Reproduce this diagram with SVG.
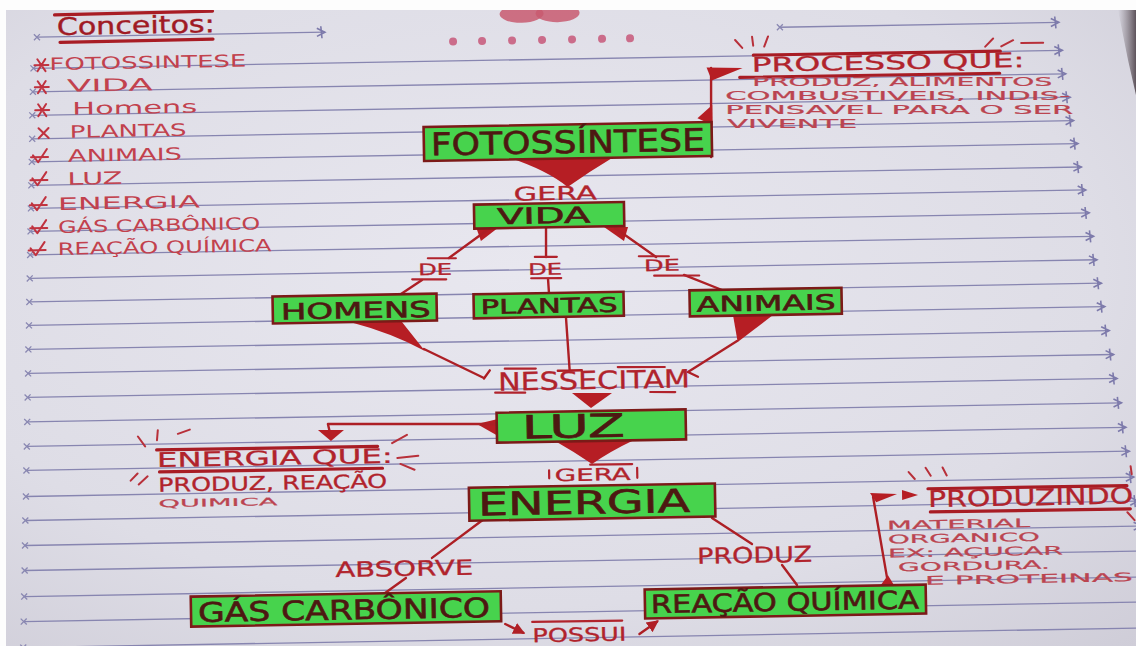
<svg xmlns="http://www.w3.org/2000/svg" width="1136" height="646" viewBox="0 0 1136 646">
<defs>
  <radialGradient id="paperGlow" cx="0.45" cy="0.42" r="0.8">
    <stop offset="0" stop-color="#e8e7ef"/>
    <stop offset="0.65" stop-color="#dedde6"/>
    <stop offset="1" stop-color="#cfcdd8"/>
  </radialGradient>
  <linearGradient id="edgeShade" x1="0" y1="0" x2="1" y2="0">
    <stop offset="0" stop-color="#7a7078" stop-opacity="0"/>
    <stop offset="1" stop-color="#574c54" stop-opacity="0.95"/>
  </linearGradient>
  <marker id="ruleEnd" markerUnits="userSpaceOnUse" markerWidth="16" markerHeight="14" refX="11" refY="7" orient="auto">
    <path d="M3,3 L11,7 L3,11 M7,1 L8,13" fill="none" stroke="#7d7aab" stroke-width="1.6"/>
  </marker>
  <marker id="ruleStart" markerUnits="userSpaceOnUse" markerWidth="10" markerHeight="10" refX="4" refY="5" orient="auto">
    <path d="M1,2 L7,8 M7,2 L1,8" fill="none" stroke="#8a88b2" stroke-width="1.3"/>
  </marker>
  <marker id="inkArrow" markerUnits="userSpaceOnUse" markerWidth="14" markerHeight="14" refX="10" refY="7" orient="auto">
    <path d="M0,1 L12,7 L0,13 Z" fill="#b01f26"/>
  </marker>
  <g id="mk-star"><path d="M-7,0H7M-4,-6L4,6M4,-6L-4,6" fill="none" stroke="#c0323f" stroke-width="2" stroke-linecap="round"/></g>
  <g id="mk-x"><path d="M-5,-5L5,5M5,-5L-5,5" fill="none" stroke="#c0323f" stroke-width="2" stroke-linecap="round"/></g>
  <g id="mk-tick"><path d="M-8,-2L-3,5L6,-8M-10,0H7" fill="none" stroke="#c0323f" stroke-width="2" stroke-linecap="round" stroke-linejoin="round"/></g>
</defs>
<style>
  .rule{stroke:#8785b0;stroke-width:1.3;fill:none;marker-start:url(#ruleStart);marker-end:url(#ruleEnd)}
  .box{fill:#47d34d;stroke:#7c1a18;stroke-width:2.6}
  .ntxt{font-family:"DejaVu Sans",sans-serif;fill:#4d1812;stroke:#4d1812;stroke-width:0.6}
  .lbl{font-family:"DejaVu Sans",sans-serif;fill:#b1232c;stroke:#b1232c;stroke-width:0.3}
  .note{font-family:"DejaVu Sans",sans-serif;fill:#bb4450;stroke:#bb4450;stroke-width:0.2}
  .list{font-family:"DejaVu Sans",sans-serif;fill:#c2414d;font-size:17px}
  .ink{stroke:#ad1f25;stroke-width:2.4;fill:none;stroke-linecap:round;stroke-linejoin:round}
  .bar{stroke:#b1232c;stroke-width:2.2;fill:none;stroke-linecap:round}
  .rule-red{stroke:#a81c24;stroke-width:3.2;fill:none;stroke-linecap:round}
  .wedge{fill:#b61e24}
  .spark{stroke:#b8303a;stroke-width:2;fill:none;stroke-linecap:round}
</style>

<!-- paper -->
<rect x="0" y="0" width="1136" height="646" fill="url(#paperGlow)"/>

<g transform="rotate(-1 568 323)">
  <!-- ruled lines of the notebook page -->
  <g id="ruled-lines">
    <line class="rule" x1="42" y1="28" x2="330" y2="28"/>
    <line class="rule" x1="785" y1="31" x2="1064" y2="31"/>
    <line class="rule" x1="38" y1="59" x2="1067" y2="59"/>
    <line class="rule" x1="37" y1="82.5" x2="1070" y2="82.5"/>
    <line class="rule" x1="36" y1="106" x2="1074" y2="106"/>
    <line class="rule" x1="35.5" y1="129.5" x2="1077" y2="129.5"/>
    <line class="rule" x1="34.7" y1="152.5" x2="1081" y2="152.5"/>
    <line class="rule" x1="33.8" y1="176" x2="1084" y2="176"/>
    <line class="rule" x1="33" y1="199" x2="1088" y2="199"/>
    <line class="rule" x1="32.2" y1="222" x2="1091" y2="222"/>
    <line class="rule" x1="31.4" y1="245.5" x2="1095" y2="245.5"/>
    <line class="rule" x1="30.6" y1="269" x2="1098" y2="269"/>
    <line class="rule" x1="29.8" y1="292.5" x2="1102" y2="292.5"/>
    <line class="rule" x1="29" y1="316" x2="1105" y2="316"/>
    <line class="rule" x1="28" y1="340" x2="1109" y2="340"/>
    <line class="rule" x1="27.3" y1="364" x2="1113" y2="364"/>
    <line class="rule" x1="26.4" y1="388" x2="1116" y2="388"/>
    <line class="rule" x1="25.6" y1="412.5" x2="1120" y2="412.5"/>
    <line class="rule" x1="24.7" y1="437" x2="1124" y2="437"/>
    <line class="rule" x1="23.9" y1="461" x2="1127" y2="461"/>
    <line class="rule" x1="23" y1="487" x2="1131" y2="487"/>
    <line class="rule" x1="22" y1="511" x2="1135" y2="511"/>
    <line class="rule" x1="21.2" y1="536" x2="1138" y2="536"/>
    <line class="rule" x1="20.4" y1="561" x2="1142" y2="561"/>
    <line class="rule" x1="19.5" y1="587" x2="1146" y2="587"/>
    <line class="rule" x1="18.6" y1="612" x2="1150" y2="612"/>
    <line class="rule" x1="17.7" y1="638" x2="1154" y2="638"/>
  </g>

  <!-- page header -->
  <g id="header">
    <path class="rule-red" d="M60 6 L218 5"/>
    <text x="62" y="26" font-family="DejaVu Sans, sans-serif" font-size="24" fill="#a01a24" stroke="#a01a24" stroke-width="0.4" textLength="158" lengthAdjust="spacingAndGlyphs">Conceitos:</text>
    <path class="rule-red" d="M65 33.5 L218 33"/>
    <ellipse cx="527" cy="13" rx="22" ry="9" fill="#c85a70" opacity="0.85"/>
    <ellipse cx="563" cy="13" rx="22" ry="9" fill="#c85a70" opacity="0.85"/>
    <g fill="#c8587a" opacity="0.85">
      <circle cx="458" cy="39.5" r="4"/>
      <circle cx="487" cy="39.5" r="4"/>
      <circle cx="517" cy="39.5" r="4"/>
      <circle cx="547" cy="39.5" r="4"/>
      <circle cx="577" cy="39.5" r="4"/>
      <circle cx="607" cy="39.5" r="4"/>
      <circle cx="635" cy="39.5" r="4"/>
    </g>
  </g>

  <!-- list of concepts -->
  <g id="concepts-list">
    <use href="#mk-star" x="46" y="56"/>
    <use href="#mk-star" x="46" y="78"/>
    <use href="#mk-star" x="46" y="101"/>
    <use href="#mk-x" x="47" y="124"/>
    <use href="#mk-tick" x="44" y="148"/>
    <use href="#mk-tick" x="43" y="171"/>
    <use href="#mk-tick" x="42" y="196"/>
    <use href="#mk-tick" x="42" y="219"/>
    <use href="#mk-tick" x="40" y="241"/>
    <text class="list" x="54" y="61" textLength="197" lengthAdjust="spacingAndGlyphs">FOTOSSINTESE</text>
    <text class="list" x="71" y="83" textLength="86" lengthAdjust="spacingAndGlyphs">VIDA</text>
    <text class="list" x="76" y="106" textLength="125" lengthAdjust="spacingAndGlyphs">Homens</text>
    <text class="list" x="73" y="129" textLength="117" lengthAdjust="spacingAndGlyphs">PLANTAS</text>
    <text class="list" x="71" y="153" textLength="114" lengthAdjust="spacingAndGlyphs">ANIMAIS</text>
    <text class="list" x="70" y="176" textLength="55" lengthAdjust="spacingAndGlyphs">LUZ</text>
    <text class="list" x="60" y="201" textLength="142" lengthAdjust="spacingAndGlyphs">ENERGIA</text>
    <text class="list" x="60" y="224" textLength="202" lengthAdjust="spacingAndGlyphs">GÁS CARBÔNICO</text>
    <text class="list" x="59" y="246" textLength="214" lengthAdjust="spacingAndGlyphs">REAÇÃO QUÍMICA</text>
  </g>

  <!-- connectors -->
  <g id="connectors">
    <!-- fotossintese to vida -->
    <path class="wedge" d="M513 157 L615 158.8 Q592 172 570 187 Q550 170 513 157 Z"/>
    <!-- vida to the three "de" -->
    <path class="wedge" d="M477.7 225.4 L500.7 225.8 L482.4 239.5 Z"/>
    <path class="ink" d="M491.7 226.6 L450.1 255.9"/>
    <path class="ink" d="M422.8 277.4 L398.5 293"/>
    <path class="ink" d="M547.7 226.6 L547.2 256.6"/>
    <path class="ink" d="M548.8 278.6 L549.5 292.7"/>
    <path class="wedge" d="M605.7 227.6 L629.7 228 L625.4 242 Z"/>
    <path class="ink" d="M616.7 228.8 L657.2 258.5"/>
    <path class="ink" d="M684.8 277 L722.6 292.7"/>
    <!-- homens, plantas, animais to "nessecitam" -->
    <path class="wedge" d="M350 318.2 L402 319.1 L424.5 348.5 Q392 330 350 318.2 Z"/>
    <path class="ink" d="M423.5 346.5 L483 376.5 M489 369 L483 377"/>
    <path class="ink" d="M566.1 318 L568.8 370 M557 370.5 L581 370.5"/>
    <path class="wedge" d="M733.1 317.9 L773.1 318.6 L737.3 345 Z"/>
    <path class="ink" d="M736.7 344 L687.1 374.1 L697 379"/>
    <!-- nessecitam to luz -->
    <path class="wedge" d="M570.8 393.1 L610.8 393.8 L589.5 408.4 Z"/>
    <!-- luz to energia -->
    <path class="wedge" d="M553 440.8 L630 442.1 Q608 452 589.6 464.4 Q572 452 553 440.8 Z"/>
    <!-- luz to the note about energy -->
    <path class="wedge" d="M475.2 422.4 L496.2 417.8 L496.1 434.8 Z"/>
    <path class="ink" d="M495.2 422.8 L326.2 419.8 L328.1 428.8"/>
    <path class="wedge" d="M316.1 425.6 L342.1 426.1 L328.9 436.8 Z"/>
    <!-- energia to gas carbonico and reacao quimica -->
    <path class="ink" d="M480.6 517.5 L427.9 555.5"/>
    <path class="ink" d="M401.5 575.2 L376.2 592.7"/>
    <path class="ink" d="M708.6 520.5 L748.1 547.2"/>
    <path class="ink" d="M777.8 568.7 L792.4 589"/>
    <!-- possui arrows -->
    <path class="ink" d="M500 622.9 L518 632" marker-end="url(#inkArrow)"/>
    <path class="ink" d="M634 635.3 L652 623" marker-end="url(#inkArrow)"/>
    <!-- bracket from fotossintese to its note -->
    <path class="ink" d="M715.5 70.5 L714 159.5"/>
    <path class="wedge" d="M711 70 L747 71 L716 83 Z"/>
    <path class="wedge" d="M701 120.5 L716 107.5 L716 127.5 Z"/>
    <!-- bracket from reacao quimica to its note -->
    <path class="ink" d="M883.4 588.7 L870 502.3"/>
    <path class="wedge" d="M867 498.3 L894 499.8 L873 507.5 Z"/>
    <path class="wedge" d="M899 495.8 L915 501 L899 505.9 Z"/>
    <path class="wedge" d="M872.3 595.5 L892.3 595.8 L883.5 580.7 Z"/>
  </g>

  <!-- link labels -->
  <g id="link-labels">
    <text class="lbl" x="516" y="199.8" font-size="19" textLength="83" lengthAdjust="spacingAndGlyphs">GERA</text>
    <path class="bar" d="M429 255.8 L457 256.3 M413 276.6 L447 277.2"/>
    <text class="lbl" x="419" y="272.6" font-size="16" textLength="34" lengthAdjust="spacingAndGlyphs">DE</text>
    <path class="bar" d="M536 256.4 L558 256.6 M532 277.6 L562 278"/>
    <text class="lbl" x="529" y="274.3" font-size="16" textLength="34" lengthAdjust="spacingAndGlyphs">DE</text>
    <path class="bar" d="M640 257.5 L670 258 M655 277.2 L700 277.8"/>
    <text class="lbl" x="645" y="272.5" font-size="16" textLength="36" lengthAdjust="spacingAndGlyphs">DE</text>
    <path class="bar" d="M504 367.6 L535 368 M617 367.9 L664 368.7 M494 391.4 L524 391.9 M649 393.4 L674 393.9"/>
    <text class="lbl" x="497" y="389.5" font-size="25" textLength="192" lengthAdjust="spacingAndGlyphs">NESSECITAM</text>
    <path class="bar" d="M546.5 470 L546.5 478 M634.6 469 L634.6 479 M587.7 465 L629.7 465.2"/>
    <text class="lbl" x="552" y="481" font-size="17" textLength="76" lengthAdjust="spacingAndGlyphs">GERA</text>
    <text class="lbl" x="331" y="573" font-size="21" textLength="138" lengthAdjust="spacingAndGlyphs">ABSORVE</text>
    <text class="lbl" x="693" y="566" font-size="22" textLength="115" lengthAdjust="spacingAndGlyphs">PRODUZ</text>
    <path class="bar" d="M527 621.2 L617 621.5"/>
    <text class="lbl" x="527" y="641.5" font-size="19" textLength="94" lengthAdjust="spacingAndGlyphs">POSSUI</text>
  </g>

  <!-- concept nodes -->
  <g id="node-fotossintese">
    <rect class="box" x="427" y="124.5" width="288" height="34"/>
    <text class="ntxt" x="434" y="153" font-size="31" textLength="274" lengthAdjust="spacingAndGlyphs">FOTOSSÍNTESE</text>
  </g>
  <g id="node-vida">
    <rect class="box" x="476" y="203" width="150" height="24"/>
    <text class="ntxt" x="499" y="223" font-size="22" textLength="93" lengthAdjust="spacingAndGlyphs">VIDA</text>
  </g>
  <g id="node-homens">
    <rect class="box" x="273" y="291.3" width="164" height="27"/>
    <text class="ntxt" x="281" y="314.5" font-size="22" textLength="150" lengthAdjust="spacingAndGlyphs">HOMENS</text>
  </g>
  <g id="node-plantas">
    <rect class="box" x="474" y="292.7" width="150" height="24"/>
    <text class="ntxt" x="481" y="312.5" font-size="20" textLength="137" lengthAdjust="spacingAndGlyphs">PLANTAS</text>
  </g>
  <g id="node-animais">
    <rect class="box" x="690" y="292.5" width="152" height="26"/>
    <text class="ntxt" x="697" y="314" font-size="21" textLength="139" lengthAdjust="spacingAndGlyphs">ANIMAIS</text>
  </g>
  <g id="node-luz">
    <rect class="box" x="495" y="411.4" width="189" height="30"/>
    <text class="ntxt" x="520" y="437.7" font-size="32" textLength="103" lengthAdjust="spacingAndGlyphs">LUZ</text>
  </g>
  <g id="node-energia">
    <rect class="box" x="466" y="486" width="246" height="33"/>
    <text class="ntxt" x="475" y="514" font-size="32" textLength="212" lengthAdjust="spacingAndGlyphs">ENERGIA</text>
  </g>
  <g id="node-gas-carbonico">
    <rect class="box" x="186" y="590" width="310" height="30"/>
    <text class="ntxt" x="193" y="615.5" font-size="27" textLength="292" lengthAdjust="spacingAndGlyphs">GÁS CARBÔNICO</text>
  </g>
  <g id="node-reacao-quimica">
    <rect class="box" x="640" y="590.8" width="281" height="29"/>
    <text class="ntxt" x="646" y="614.5" font-size="25" textLength="268" lengthAdjust="spacingAndGlyphs">REAÇÃO QUÍMICA</text>
  </g>

  <!-- note: processo que -->
  <g id="note-processo">
    <path class="spark" d="M740 43 L747 51 M757 40 L758 49 M773 40 L769 50 M990 54 L998 46 M1006 54 L1018 48 M1026 51 L1048 51"/>
    <path class="rule-red" d="M758 58.4 L1005 58.8"/>
    <text class="lbl" x="756" y="75" font-size="20" textLength="273" lengthAdjust="spacingAndGlyphs">PROCESSO QUE:</text>
    <path class="rule-red" d="M744 80.4 L1004 80.8"/>
    <!-- body lines kept level so the close lines do not touch -->
    <g transform="rotate(1 900 110)">
      <text class="note" x="756" y="92" font-size="11.5" textLength="300" lengthAdjust="spacingAndGlyphs">PRODUZ, ALIMENTOS</text>
      <text class="note" x="729" y="106" font-size="11.5" textLength="345" lengthAdjust="spacingAndGlyphs">COMBUSTIVEIS, INDIS-</text>
      <text class="note" x="729" y="120" font-size="11.5" textLength="348" lengthAdjust="spacingAndGlyphs">PENSAVEL PARA O SER</text>
      <text class="note" x="731" y="134" font-size="11.5" textLength="130" lengthAdjust="spacingAndGlyphs">VIVENTE</text>
    </g>
  </g>

  <!-- note: energia que -->
  <g id="note-energia">
    <path class="spark" d="M136 429 L143 439 M156 423 L155 433 M176 427 L188 423 M128 473 L135 466 M136 477 L145 469 M390 440 L405 432 M395 455 L416 453 M398 461 L412 467"/>
    <path class="rule-red" d="M154.5 442.7 L375.5 443"/>
    <text class="lbl" x="154.5" y="459.8" font-size="20" textLength="236" lengthAdjust="spacingAndGlyphs">ENERGIA QUE:</text>
    <path class="rule-red" d="M157 464.8 L380 465"/>
    <text class="lbl" x="155.4" y="484.5" font-size="19" textLength="229" lengthAdjust="spacingAndGlyphs">PRODUZ, REAÇÃO</text>
    <text class="note" x="155.3" y="500" font-size="10.5" textLength="119" lengthAdjust="spacingAndGlyphs">QUIMICA</text>
  </g>

  <!-- note: produzindo -->
  <g id="note-produzindo">
    <path class="spark" d="M906 478 L912 485 M923 474 L928 482 M940 474 L944 482 M1128 476 L1129 484 M1124 522 L1131 530"/>
    <path class="rule-red" d="M925 495 L1124 495.4"/>
    <text class="lbl" x="925" y="513.3" font-size="23" textLength="205" lengthAdjust="spacingAndGlyphs">PRODUZINDO</text>
    <path class="rule-red" d="M927 518.2 L1127 518.6"/>
    <text class="note" x="883.4" y="535" font-size="11.8" textLength="143" lengthAdjust="spacingAndGlyphs">MATERIAL</text>
    <text class="note" x="884.1" y="549" font-size="11.8" textLength="152" lengthAdjust="spacingAndGlyphs">ORGANICO</text>
    <text class="note" x="883.9" y="563" font-size="11.8" textLength="175" lengthAdjust="spacingAndGlyphs">EX: AÇUCAR</text>
    <text class="note" x="893.7" y="577" font-size="11.8" textLength="152" lengthAdjust="spacingAndGlyphs">GORDURA.</text>
    <text class="note" x="920.4" y="591" font-size="11.8" textLength="208" lengthAdjust="spacingAndGlyphs">E PROTEINAS</text>
  </g>
</g>

<!-- page border and edge shading -->
<polygon points="1118,10 1136,10 1136,95 1128,60" fill="url(#edgeShade)"/>
<rect x="0" y="0" width="1136" height="10" fill="#fdfdfd"/>
<rect x="0" y="0" width="6" height="646" fill="#fdfdfd"/>
</svg>
